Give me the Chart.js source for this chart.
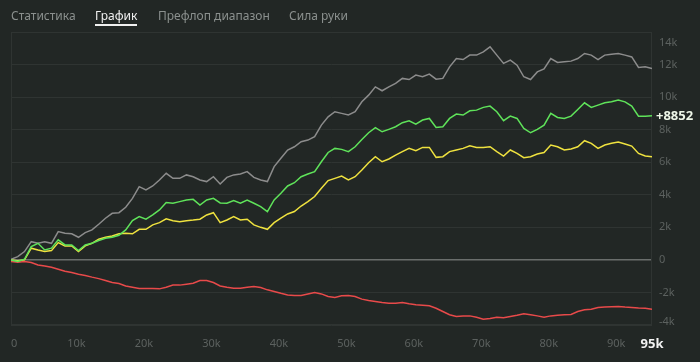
<!DOCTYPE html>
<html>
<head>
<meta charset="utf-8">
<script src="https://cdn.jsdelivr.net/npm/chart.js@4"></script>
<style>
  html, body { margin: 0; padding: 0; background: #222725; }
  #wrap { position: relative; width: 700px; height: 362px; overflow: hidden; }
  #chart { position: absolute; left: 0; top: 0; }
  .tab { position: absolute; top: 7px; font: 12px "Noto Sans", "Open Sans", sans-serif; color: #8b908e; white-space: nowrap; }
  .tab.active { color: #f0f0f0; }
  .tab.active::after { content: ''; position: absolute; left: 0; right: 0; top: 17px; height: 2px; background: #f0f0f0; }
</style>
</head>
<body>
<div id="wrap">
  <canvas id="chart" width="700" height="362"></canvas>
  <div class="tab" style="left:11px">Статистика</div>
  <div class="tab active" style="left:95px">График</div>
  <div class="tab" style="left:158px">Префлоп диапазон</div>
  <div class="tab" style="left:289px">Сила руки</div>
</div>
<script>
// hands played, in thousands
const handsK = [0, 1, 2, 3, 4, 5, 6, 7, 8, 9, 10, 11, 12, 13, 14, 15, 16, 17, 18, 19,
  20, 21, 22, 23, 24, 25, 26, 27, 28, 29, 30, 31, 32, 33, 34, 35, 36, 37, 38, 39,
  40, 41, 42, 43, 44, 45, 46, 47, 48, 49, 50, 51, 52, 53, 54, 55, 56, 57, 58, 59,
  60, 61, 62, 63, 64, 65, 66, 67, 68, 69, 70, 71, 72, 73, 74, 75, 76, 77, 78, 79,
  80, 81, 82, 83, 84, 85, 86, 87, 88, 89, 90, 91, 92, 93, 94, 95]

const greyLine = [40, 200, 510, 1120, 1020, 1120, 1020, 1740, 1640, 1600,
  1390, 1680, 1840, 2190, 2560, 2860, 2900, 3230, 3780, 4500,
  4300, 4540, 4910, 5320, 5010, 5010, 5220, 5110, 4910, 4810,
  5110, 4660, 5070, 5220, 5280, 5420, 5070, 4910, 4810, 5730,
  6240, 6750, 6950, 7260, 7360, 7570, 8280, 8790, 9100, 9000,
  8900, 9100, 9710, 10120, 10630, 10390, 10630, 10840, 11150, 11080,
  11350, 11250, 11410, 11100, 11150, 11860, 12370, 12310, 12580, 12580,
  12780, 13090, 12580, 12070, 12270, 11960, 11250, 11080, 11550, 11730,
  12370, 12130, 12170, 12210, 12370, 12680, 12580, 12310, 12580, 12640,
  12680, 12580, 12470, 11820, 11860, 11760]

const greenLine = [0, -100, 40, 820, 1020, 610, 720, 1230, 920, 920,
  570, 920, 1020, 1190, 1330, 1390, 1510, 1840, 2410, 2660,
  2500, 2760, 3070, 3520, 3480, 3580, 3680, 3720, 3370, 3680,
  3780, 3500, 3480, 3640, 3480, 3680, 3480, 3270, 2970, 3680,
  4090, 4540, 4740, 5110, 5280, 5420, 6030, 6600, 6850, 6790,
  6650, 6950, 7400, 7810, 8120, 7870, 8020, 8180, 8430, 8550,
  8340, 8590, 8690, 8130, 8180, 8690, 8960, 8900, 9160, 9200,
  9370, 9450, 9100, 8550, 8830, 8690, 8080, 7810, 8020, 8280,
  9000, 8750, 8690, 8830, 9240, 9650, 9370, 9510, 9650, 9710,
  9820, 9710, 9450, 8830, 8830, 8852]

const yellowLine = [0, -60, 0, 720, 610, 510, 570, 1060, 860, 860,
  510, 860, 1020, 1270, 1390, 1470, 1600, 1640, 1600, 1880,
  1880, 2150, 2290, 2520, 2410, 2350, 2410, 2450, 2500, 2760,
  2900, 2290, 2450, 2660, 2450, 2500, 2150, 2000, 1880, 2290,
  2560, 2820, 2970, 3310, 3580, 3890, 4400, 4870, 5010, 5150,
  4910, 5110, 5520, 5970, 6340, 6030, 6200, 6440, 6650, 6850,
  6710, 6910, 6910, 6300, 6340, 6650, 6750, 6850, 7010, 6910,
  6910, 6950, 6650, 6380, 6750, 6540, 6280, 6340, 6500, 6600,
  7060, 6950, 6750, 6810, 6950, 7320, 7160, 6850, 7060, 7160,
  7240, 7120, 6990, 6540, 6380, 6340]

const redLine = [-100, -140, -100, -160, -310, -370, -450, -570, -700, -780,
  -880, -960, -1060, -1150, -1270, -1390, -1450, -1600, -1680, -1760,
  -1760, -1760, -1780, -1680, -1550, -1550, -1490, -1430, -1270, -1270,
  -1390, -1600, -1680, -1740, -1740, -1680, -1640, -1700, -1840, -1940,
  -2050, -2150, -2190, -2190, -2090, -2000, -2090, -2250, -2310, -2210,
  -2190, -2250, -2410, -2500, -2560, -2620, -2660, -2660, -2620, -2700,
  -2760, -2780, -2820, -2970, -3170, -3370, -3480, -3440, -3440, -3520,
  -3640, -3600, -3520, -3560, -3480, -3400, -3310, -3370, -3440, -3520,
  -3440, -3400, -3370, -3350, -3170, -3070, -3030, -2920, -2900, -2880,
  -2860, -2900, -2920, -2950, -2970, -3030]

const xTickLabels = ['0', '10k', '20k', '30k', '40k', '50k', '60k', '70k', '80k', '90k']
const yTickValues = [-4000, -2000, 0, 2000, 4000, 6000, 8000, 10000, 12000, 14000]
const lastHandsLabel = '95k'

function toPoints(values) {
  return values.map((v, i) => ({ x: handsK[i] * 1000, y: v }))
}

function kLabel(v) {
  return v === 0 ? '0' : v / 1000 + 'k'
}

const axisLabels = {
  id: 'axisLabels',
  beforeDatasetsDraw(chart) {
    const { ctx, chartArea: a } = chart
    ctx.save()
    ctx.strokeStyle = '#2f3432'
    ctx.lineWidth = 1
    ctx.strokeRect(a.left + 0.5, a.top + 0.5, a.width - 1, a.height - 1)
    ctx.restore()
  },
  afterDraw(chart) {
    const { ctx, chartArea: a, scales: { x, y } } = chart
    ctx.save()
    ctx.font = '11px "Noto Sans", sans-serif'
    ctx.fillStyle = '#5c615f'
    ctx.textBaseline = 'middle'
    ctx.textAlign = 'left'
    yTickValues.forEach(v => {
      let py = y.getPixelForValue(v)
      py = Math.max(a.top + 11, Math.min(a.bottom - 3, py))
      ctx.fillText(kLabel(v), a.right + 7, py)
    })
    xTickLabels.forEach((label, i) => {
      const px = x.getPixelForValue(i * 10000)
      if (i === 0) {
        ctx.textAlign = 'left'
        ctx.fillText(label, px, 344)
      } else {
        ctx.textAlign = 'center'
        ctx.fillText(label, px - 2, 344)
      }
    })
    ctx.font = 'bold 13px "Noto Sans", sans-serif'
    ctx.fillStyle = '#f2f2f2'
    ctx.textAlign = 'center'
    ctx.fillText(lastHandsLabel, x.getPixelForValue(95000), 344)

    const last = greenLine[greenLine.length - 1]
    ctx.fillStyle = '#eef6e8'
    ctx.textAlign = 'left'
    ctx.fillText('+' + last, a.right + 4, y.getPixelForValue(last))
    ctx.restore()
  },
}

const ctx = document.getElementById('chart').getContext('2d')
new Chart(ctx, {
  type: 'line',
  data: {
    datasets: [
      { data: toPoints(greenLine), borderColor: '#5fe35a', order: 1 },
      { data: toPoints(yellowLine), borderColor: '#efe23f', order: 2 },
      { data: toPoints(greyLine), borderColor: '#8c8c8c', order: 3 },
      { data: toPoints(redLine), borderColor: '#e84a4a', order: 4 },
    ],
  },
  options: {
    responsive: false,
    animation: false,
    layout: { padding: { left: 11, top: 32, right: 48, bottom: 37 } },
    elements: {
      point: { radius: 0 },
      line: { borderWidth: 1.5, tension: 0 },
    },
    plugins: { legend: { display: false }, tooltip: { enabled: false } },
    scales: {
      x: {
        type: 'linear',
        min: 0,
        max: 95000,
        grid: { display: false, drawTicks: false },
        border: { display: false },
        ticks: { display: false },
      },
      y: {
        position: 'right',
        min: -4000,
        max: 14000,
        grid: {
          drawTicks: false,
          color: c => (c.tick && c.tick.value === 0 ? '#6a6e6c' : '#2f3432'),
          lineWidth: c => (c.tick && c.tick.value === 0 ? 1.5 : 1),
        },
        border: { display: false },
        ticks: { display: false, stepSize: 2000 },
      },
    },
  },
  plugins: [axisLabels],
})
</script>
</body>
</html>
